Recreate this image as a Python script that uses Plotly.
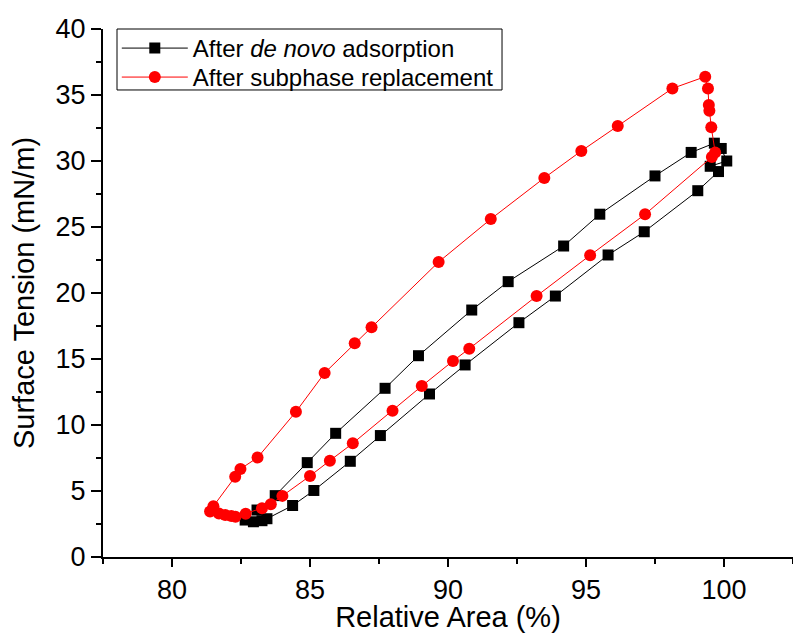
import plotly.graph_objects as go

# ── After de novo adsorption (black squares), in loop order ──────────────────
denovo_area = [82.65, 82.95, 83.26, 83.44, 84.37, 85.14, 86.46, 87.55, 89.33,
               90.62, 92.57, 93.89, 95.80, 97.11, 99.05, 99.80, 99.50, 100.10,
               99.90, 99.65, 98.81, 97.50, 95.50, 94.19, 92.18, 90.86, 88.93,
               87.72, 85.93, 84.90, 83.74, 83.08]
denovo_tension = [2.80, 2.67, 2.75, 2.90, 3.90, 5.04, 7.25, 9.20, 12.35,
                  14.55, 17.75, 19.77, 22.88, 24.64, 27.75, 29.20, 29.60, 30.00,
                  30.95, 31.35, 30.65, 28.87, 25.97, 23.56, 20.86, 18.71, 15.25,
                  12.78, 9.37, 7.15, 4.65, 3.56]

# ── After subphase replacement (red circles), in loop order ──────────────────
replace_area = [99.56, 97.14, 95.15, 93.21, 90.77, 90.18, 89.05, 87.99, 86.55,
                85.72, 85.00, 84.00, 83.58, 83.26, 82.67, 82.30, 82.15, 81.93,
                81.70, 81.38, 81.50, 82.29, 82.48, 83.10, 84.49, 85.53, 86.62,
                87.23, 89.66, 91.55, 93.49, 94.83, 96.15, 98.13, 99.32, 99.42,
                99.45, 99.47, 99.54, 99.68]
replace_tension = [30.30, 25.96, 22.86, 19.77, 15.78, 14.85, 12.95, 11.08, 8.61,
                   7.30, 6.14, 4.63, 4.00, 3.70, 3.27, 3.05, 3.10, 3.18,
                   3.30, 3.45, 3.85, 6.08, 6.67, 7.53, 11.00, 13.94, 16.20,
                   17.40, 22.35, 25.60, 28.72, 30.76, 32.65, 35.50, 36.39, 35.50,
                   34.25, 33.80, 32.55, 30.65]

FONT = "Liberation Sans, Arial, sans-serif"

fig = go.Figure()
fig.add_trace(go.Scatter(
    x=denovo_area, y=denovo_tension, mode="lines+markers",
    name="After <i>de novo</i> adsorption", legend="legend", showlegend=True,
    line=dict(color="black", width=1),
    marker=dict(symbol="square", size=11, color="black"),
))
fig.add_trace(go.Scatter(
    x=replace_area, y=replace_tension, mode="lines+markers",
    name="After subphase replacement", legend="legend2", showlegend=True,
    line=dict(color="red", width=1),
    marker=dict(symbol="circle", size=12, color="red"),
))

axis_common = dict(
    showline=True, linecolor="black", linewidth=2, mirror=False,
    showgrid=False, zeroline=False,
    ticks="outside", ticklen=10, tickwidth=2, tickcolor="black",
    tickfont=dict(family=FONT, size=27, color="black"),
    minor=dict(ticks="outside", ticklen=5, tickwidth=2, tickcolor="black"),
)

fig.update_xaxes(
    range=[77.5, 102.5], tickmode="array", tickvals=[80, 85, 90, 95, 100],
    minor_tickvals=[77.5, 82.5, 87.5, 92.5, 97.5, 102.5],
    title=dict(text="Relative Area (%)", font=dict(family=FONT, size=29, color="black"),
               standoff=7),
    **axis_common,
)
fig.update_xaxes(ticklen=8)
fig.update_yaxes(
    range=[0, 40], tickmode="array", tickvals=[0, 5, 10, 15, 20, 25, 30, 35, 40],
    minor_tickvals=[2.5, 7.5, 12.5, 17.5, 22.5, 27.5, 32.5, 37.5],
    title=dict(text="Surface Tension (mN/m)", font=dict(family=FONT, size=29, color="black"),
               standoff=12),
    **axis_common,
)

# two one-entry legends inside a single framed box, so rows sit closer together
legend_common = dict(
    x=0.02, xanchor="left", yanchor="top",
    bgcolor="rgba(0,0,0,0)", borderwidth=0,
    font=dict(family=FONT, size=24, color="black"),
    itemwidth=66, visible=True,
)
fig.update_layout(
    width=793, height=633,
    margin=dict(l=103, r=0, t=29, b=76),
    paper_bgcolor="white", plot_bgcolor="white",
    font=dict(family=FONT, color="black"),
    showlegend=True,
    legend=dict(y=1.0057, **legend_common),
    legend2=dict(y=0.9508, **legend_common),
    shapes=[dict(type="rect", xref="paper", yref="paper",
                 x0=0.0203, x1=0.5783, y0=0.8845, y1=1.0,
                 line=dict(color="black", width=1), layer="below")],
)

# the page's default 8px body margin would shift the whole figure
fig.write_html("out.html", config={"displayModeBar": False},
               post_script="document.body.style.margin='0';")
